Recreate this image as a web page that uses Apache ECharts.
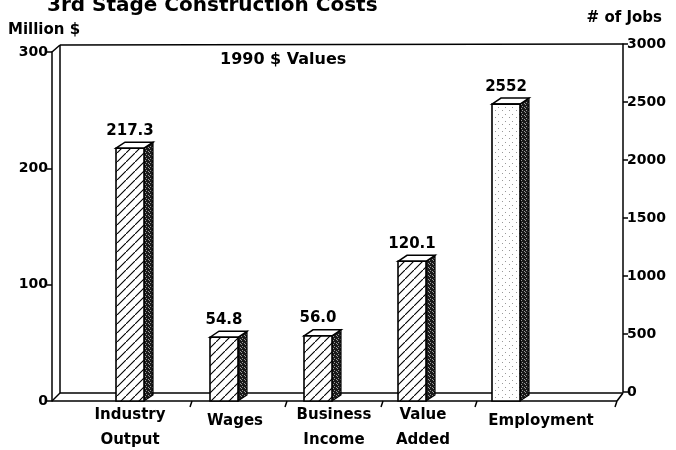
<!DOCTYPE html>
<html>
<head>
<meta charset="utf-8">
<title>3rd Stage Construction Costs</title>
<script src="https://cdn.jsdelivr.net/npm/echarts@6/dist/echarts.min.js"></script>
<style>
  html, body { margin: 0; padding: 0; background: #fff; }
  #chart { width: 676px; height: 450px; }
</style>
</head>
<body>
<div id="chart"></div>
<script>
// ---- data ----
const categories = ['Industry\nOutput', 'Wages', 'Business\nIncome', 'Value\nAdded', 'Employment'];
const millionValues = [217.3, 54.8, 56.0, 120.1, null];   // Million $ (left axis)
const jobValues = [null, null, null, null, 2552];         // # of Jobs (right axis)
const millionAxis = { min: 0, max: 300, interval: 100 };
const jobAxis = { min: 0, max: 3000, interval: 500 };

// ---- style ----
const FONT = 'DejaVu Sans';
const labelShift = [0, 11, 16, 11, 35];   // category label sits a bit right of its bar

// small canvas patterns for the old print look
function makePattern(size, draw) {
  const c = document.createElement('canvas');
  c.width = size; c.height = size;
  const ctx = c.getContext('2d');
  draw(ctx, size);
  return { image: c, repeat: 'repeat' };
}
const hatch = makePattern(9, (ctx, s) => {
  ctx.fillStyle = '#fff'; ctx.fillRect(0, 0, s, s);
  ctx.strokeStyle = '#000'; ctx.lineWidth = 1.1;
  ctx.beginPath();
  ctx.moveTo(-1, s + 1); ctx.lineTo(s + 1, -1);
  ctx.moveTo(-2, 1); ctx.lineTo(1, -2);
  ctx.moveTo(s - 1, s + 2); ctx.lineTo(s + 2, s - 1);
  ctx.stroke();
});
const dots = makePattern(7, (ctx, s) => {
  ctx.fillStyle = '#fff'; ctx.fillRect(0, 0, s, s);
  ctx.fillStyle = '#999';
  ctx.fillRect(1, 2, 1, 1); ctx.fillRect(5, 5, 1, 1);
});
const dark = makePattern(4, (ctx, s) => {
  ctx.fillStyle = '#1a1a1a'; ctx.fillRect(0, 0, s, s);
  ctx.fillStyle = '#9a9a9a';
  ctx.fillRect(1, 0, 1, 1); ctx.fillRect(2, 2, 1, 1); ctx.fillRect(0, 3, 1, 1);
});

// 3D bar: front face, right side, top
function bar3d(frontFill, digits) {
  return function (params, api) {
    const v = api.value(1);
    const top = api.coord([api.value(0), v]);
    const base = api.coord([api.value(0), 0]);
    const w = 28, dx = 9, dy = 6;
    const x0 = top[0] - w / 2, x1 = top[0] + w / 2;
    const yT = top[1], yB = base[1];
    return {
      type: 'group',
      children: [
        { type: 'polygon', shape: { points: [[x1, yT], [x1 + dx, yT - dy], [x1 + dx, yB - dy], [x1, yB]] },
          style: { fill: dark, stroke: '#000', lineWidth: 1.2 } },
        { type: 'polygon', shape: { points: [[x0, yT], [x0 + dx, yT - dy], [x1 + dx, yT - dy], [x1, yT]] },
          style: { fill: '#fff', stroke: '#000', lineWidth: 1.5 } },
        { type: 'rect', shape: { x: x0, y: yT, width: w, height: yB - yT },
          style: { fill: frontFill, stroke: '#000', lineWidth: 1.6 } },
        { type: 'text', x: top[0], y: yT - dy - 4,
          style: { text: v.toFixed(digits), fill: '#000', align: 'center', verticalAlign: 'bottom',
                   font: 'bold 15px "' + FONT + '"' } }
      ]
    };
  };
}

const rich = {};
categories.forEach((c, i) => {
  const oneLine = c.indexOf('\n') < 0;
  rich['c' + i] = {
    fontFamily: FONT, fontWeight: 'bold', fontSize: 15, color: '#000', lineHeight: 25,
    padding: [oneLine ? 12 : 0, 0, 0, labelShift[i] * 2]
  };
});

const axisText = { color: '#000', fontFamily: FONT, fontWeight: 'bold', fontSize: 14, formatter: v => String(v) };
const blackLine = { color: '#000', width: 1.5 };

const chart = echarts.init(document.getElementById('chart'), null, { renderer: 'canvas' });

function seg(x1, y1, x2, y2) {
  return { type: 'line', z: 0, shape: { x1, y1, x2, y2 }, style: { stroke: '#000', lineWidth: 1.5 } };
}

chart.setOption({
  animation: false,
  backgroundColor: '#fff',
  grid: [
    { left: 83, right: 123, top: 52, bottom: 49 },   // front plane: bars
    { left: 91, right: 53, top: 44, bottom: 58 }     // back plane: right axis
  ],
  xAxis: [
    {
      gridIndex: 0, type: 'category', data: categories,
      axisLine: { show: false }, axisTick: { show: false },
      axisLabel: {
        margin: 2, interval: 0,
        formatter: (v, i) => v.split('\n').map(t => '{c' + i + '|' + t + '}').join('\n'),
        rich: rich
      }
    },
    { gridIndex: 1, type: 'category', data: categories, show: false }
  ],
  yAxis: [
    {
      gridIndex: 0, type: 'value', position: 'left', offset: 31,
      min: millionAxis.min, max: millionAxis.max, interval: millionAxis.interval,
      axisLine: { show: true, lineStyle: blackLine },
      axisTick: { show: true, length: 5, lineStyle: blackLine },
      axisLabel: Object.assign({ margin: 4 }, axisText),
      splitLine: { show: false }
    },
    {
      gridIndex: 0, type: 'value', show: false,
      min: jobAxis.min, max: jobAxis.max, interval: jobAxis.interval
    },
    {
      gridIndex: 1, type: 'value', position: 'right',
      min: jobAxis.min, max: jobAxis.max, interval: jobAxis.interval,
      axisLine: { show: true, lineStyle: blackLine },
      axisTick: { show: true, length: 5, lineStyle: blackLine },
      axisLabel: Object.assign({ margin: 4 }, axisText),
      splitLine: { show: false }
    }
  ],
  graphic: [
    // walls and floor of the 3D frame
    seg(60, 45, 623, 44),
    seg(60, 45, 60, 393),
    seg(52, 52, 60, 45),
    seg(60, 393, 623, 393),
    seg(52, 401, 617, 401),
    seg(52, 401, 60, 393),
    seg(617, 401, 623, 393),
    // floor ticks
    seg(192, 401, 190, 407),
    seg(287, 401, 285, 407),
    seg(383, 401, 381, 407),
    seg(477, 401, 475, 407),
    seg(617, 401, 615, 407),
    // texts
    { type: 'text', left: 216 - 169, top: -4,
      style: { text: '3rd Stage Construction Costs', fill: '#000', font: 'bold 20px "' + FONT + '"' } },
    { type: 'text', left: 8, top: 23,
      style: { text: 'Million $', fill: '#000', font: 'bold 15px "' + FONT + '"' } },
    { type: 'text', right: 14, top: 11,
      style: { text: '# of Jobs', fill: '#000', font: 'bold 15px "' + FONT + '"' } },
    { type: 'text', left: 220, top: 52,
      style: { text: '1990 $ Values', fill: '#000', font: 'bold 16px "' + FONT + '"' } }
  ],
  series: [
    {
      type: 'custom', xAxisIndex: 0, yAxisIndex: 0,
      renderItem: bar3d(hatch, 1),
      data: millionValues.map((v, i) => [i, v]).filter(d => d[1] != null)
    },
    {
      type: 'custom', xAxisIndex: 0, yAxisIndex: 1,
      renderItem: bar3d(dots, 0),
      data: jobValues.map((v, i) => [i, v]).filter(d => d[1] != null)
    }
  ]
});
</script>
</body>
</html>
